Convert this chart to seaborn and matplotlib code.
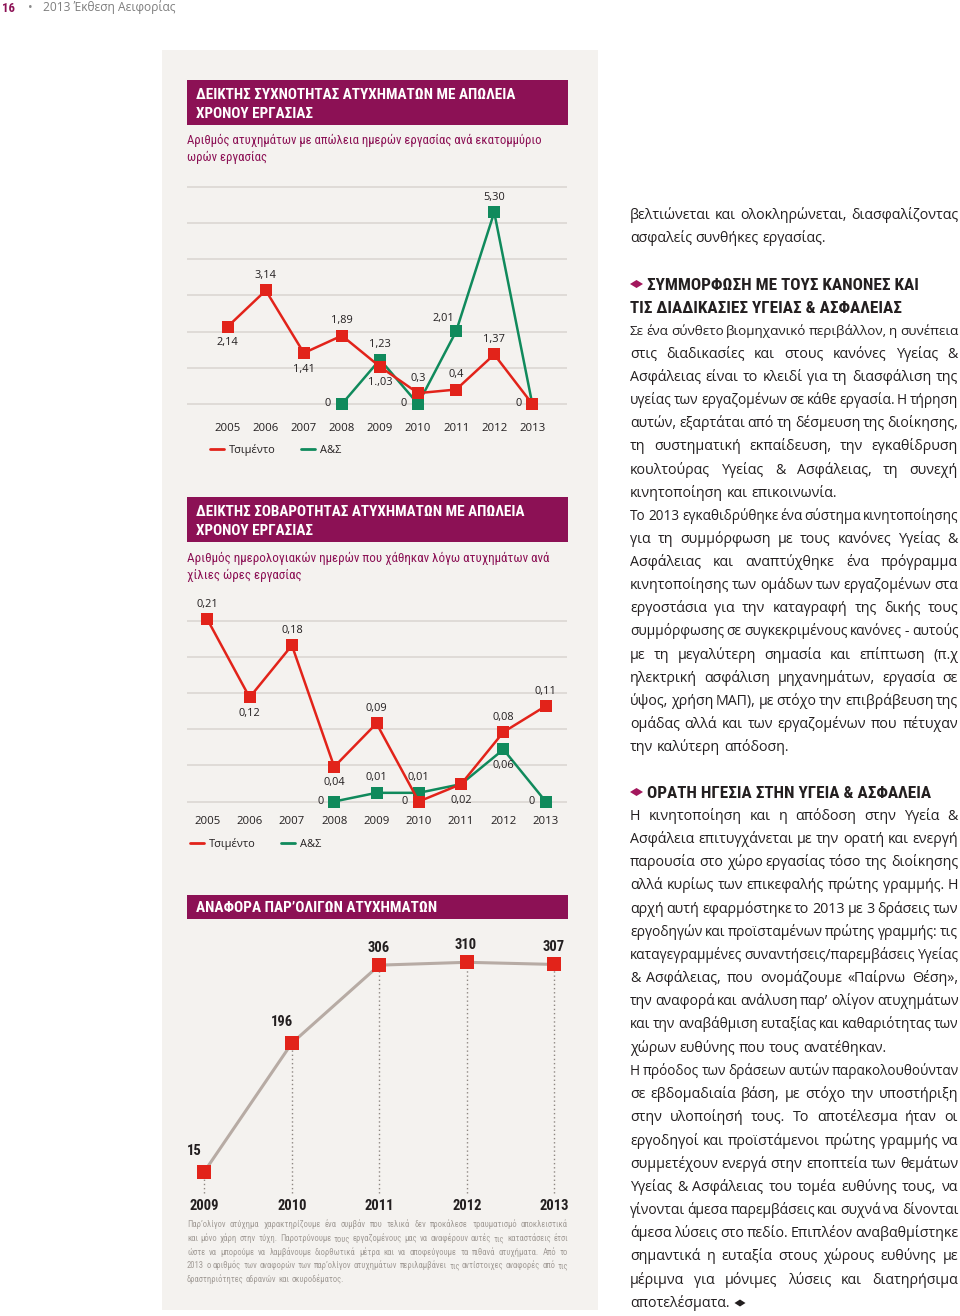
import matplotlib
matplotlib.use("Agg")
import matplotlib.pyplot as plt
import matplotlib.transforms as mtransforms
from matplotlib.patches import Rectangle, Polygon
from matplotlib.lines import Line2D
from matplotlib import font_manager
import pandas as pd
import seaborn as sns

# ---------------- data ----------------
years = [2005, 2006, 2007, 2008, 2009, 2010, 2011, 2012, 2013]
years_as = [2008, 2009, 2010, 2011, 2012, 2013]
series = ["Τσιμέντο", "Α&Σ"]

# frequency index (accidents per million hours)
freq_cement = [2.14, 3.14, 1.41, 1.89, 1.03, 0.3, 0.4, 1.37, 0]
freq_as = [0, 1.23, 0, 2.01, 5.30, 0]
freq_cement_lbl = ["2,14", "3,14", "1,41", "1,89", "1.,03", "0,3", "0,4", "1,37", ""]
freq_as_lbl = ["0", "1,23", "0", "2,01", "5,30", "0"]

# severity index (days lost per thousand hours)
sev_cement = [0.21, 0.12, 0.18, 0.04, 0.09, 0, 0.02, 0.08, 0.11]
sev_as = [0, 0.01, 0.01, 0.02, 0.06, 0]
sev_cement_lbl = ["0,21", "0,12", "0,18", "0,04", "0,09", "0", "0,02", "0,08", "0,11"]
sev_as_lbl = ["0", "0,01", "0,01", "", "0,06", "0"]

# near misses
near_years = [2009, 2010, 2011, 2012, 2013]
near_miss = [15, 196, 306, 310, 307]

# where each value label sits
freq_cement_at = ["below", "above", "below", "above", "below", "above", "above", "above", None]
freq_as_at = ["left", "above", "left", "upleft", "above", "left"]
sev_cement_at = ["above", "below", "above", "below", "above", "left", "below", "above", "above"]
sev_as_at = ["left", "above", "above", None, "below", "left"]
near_at = ["upleft", "upleft", "above", "above", "above"]
OFFS = {"above": (0, -15), "below": (0, 16), "left": (-14, 0), "upleft": (-13, -13)}
NEAR_OFFS = {"above": (-1, -17), "upleft": (-10, -21)}

# ---------------- text ----------------
top_lines = ["βελτιώνεται και ολοκληρώνεται, διασφαλίζοντας",
             "ασφαλείς συνθήκες εργασίας."]
head1 = ["ΣΥΜΜΟΡΦΩΣΗ ΜΕ ΤΟΥΣ ΚΑΝΟΝΕΣ ΚΑΙ", "ΤΙΣ ΔΙΑΔΙΚΑΣΙΕΣ ΥΓΕΙΑΣ & ΑΣΦΑΛΕΙΑΣ"]
block_a = [
    ["Σε ένα σύνθετο βιομηχανικό περιβάλλον, η συνέπεια",
     "στις διαδικασίες και στους κανόνες Υγείας &",
     "Ασφάλειας είναι το κλειδί για τη διασφάλιση της",
     "υγείας των εργαζομένων σε κάθε εργασία. Η τήρηση",
     "αυτών, εξαρτάται από τη δέσμευση της διοίκησης,",
     "τη συστηματική εκπαίδευση, την εγκαθίδρυση",
     "κουλτούρας Υγείας & Ασφάλειας, τη συνεχή",
     "κινητοποίηση και επικοινωνία."],
    ["Το 2013 εγκαθιδρύθηκε ένα σύστημα κινητοποίησης",
     "για τη συμμόρφωση με τους κανόνες Υγείας &",
     "Ασφάλειας και αναπτύχθηκε ένα πρόγραμμα",
     "κινητοποίησης των ομάδων των εργαζομένων στα",
     "εργοστάσια για την καταγραφή της δικής τους",
     "συμμόρφωσης σε συγκεκριμένους κανόνες - αυτούς",
     "με τη μεγαλύτερη σημασία και επίπτωση (π.χ",
     "ηλεκτρική ασφάλιση μηχανημάτων, εργασία σε",
     "ύψος, χρήση ΜΑΠ), με στόχο την επιβράβευση της",
     "ομάδας αλλά και των εργαζομένων που πέτυχαν",
     "την καλύτερη απόδοση."],
]
head2 = "ΟΡΑΤΗ ΗΓΕΣΙΑ ΣΤΗΝ ΥΓΕΙΑ & ΑΣΦΑΛΕΙΑ"
block_b = [
    ["Η κινητοποίηση και η απόδοση στην Υγεία &",
     "Ασφάλεια επιτυγχάνεται με την ορατή και ενεργή",
     "παρουσία στο χώρο εργασίας τόσο της διοίκησης",
     "αλλά κυρίως των επικεφαλής πρώτης γραμμής. Η",
     "αρχή αυτή εφαρμόστηκε το 2013 με 3 δράσεις των",
     "εργοδηγών και προϊσταμένων πρώτης γραμμής: τις",
     "καταγεγραμμένες συναντήσεις/παρεμβάσεις Υγείας",
     "& Ασφάλειας, που ονομάζουμε «Παίρνω Θέση»,",
     "την αναφορά και ανάλυση παρ’ ολίγον ατυχημάτων",
     "και την αναβάθμιση ευταξίας και καθαριότητας των",
     "χώρων ευθύνης που τους ανατέθηκαν."],
    ["Η πρόοδος των δράσεων αυτών παρακολουθούνταν",
     "σε εβδομαδιαία βάση, με στόχο την υποστήριξη",
     "στην υλοποίησή τους. Το αποτέλεσμα ήταν οι",
     "εργοδηγοί και προϊστάμενοι πρώτης γραμμής να",
     "συμμετέχουν ενεργά στην εποπτεία των θεμάτων",
     "Υγείας & Ασφάλειας του τομέα ευθύνης τους, να",
     "γίνονται άμεσα παρεμβάσεις και συχνά να δίνονται",
     "άμεσα λύσεις στο πεδίο. Επιπλέον αναβαθμίστηκε",
     "σημαντικά η ευταξία στους χώρους ευθύνης με",
     "μέριμνα για μόνιμες λύσεις και διατηρήσιμα",
     "αποτελέσματα."],
]
footnote = [
    "Παρ’ολίγον ατύχημα χαρακτηρίζουμε ένα συμβάν που τελικά δεν προκάλεσε τραυματισμό αποκλειστικά",
    "και μόνο χάρη στην τύχη. Παροτρύνουμε τους εργαζομένους μας να αναφέρουν αυτές τις καταστάσεις έτσι",
    "ώστε να μπορούμε να λαμβάνουμε διορθωτικά μέτρα και να αποφεύγουμε τα πιθανά ατυχήματα. Από το",
    "2013 ο αριθμός των αναφορών των παρ’ολίγον ατυχημάτων περιλαμβάνει τις αντίστοιχες αναφορές από τις",
    "δραστηριότητες αδρανών και σκυροδέματος.",
]

# ---------------- style ----------------
RED = "#e2231a"
GREEN = "#108a5c"
MAG = "#8c1155"
BULLET = "#a3175d"
PANEL = "#f4f2ef"
GRID = "#d9d5d0"
TAUPE = "#b7aba4"
DOT = "#8e8782"
TXT = "#231f20"
FOOT = "#a39d98"

names = {f.name for f in font_manager.fontManager.ttflist}


def pick(*cands):
    for n in cands:
        if n in names:
            return n
    return "DejaVu Sans"


BODY = pick("Open Sans", "Noto Sans", "DejaVu Sans")
COND = pick("Liberation Sans Narrow", "Roboto Condensed", "DejaVu Sans")

sns.set_theme(style="white")
plt.rcParams["font.family"] = [BODY, "DejaVu Sans"]

W, H = 960, 1316
fig = plt.figure(figsize=(W / 100, H / 100), dpi=100)
fig.patch.set_facecolor("white")
PX = mtransforms.Affine2D().scale(1 / W, -1 / H).translate(0, 1) + fig.transFigure
R = fig.canvas.get_renderer()
PT = 100 / 72


def put(s, x, y, size, k=0.27, **kw):
    return fig.text(x, y + k * size * PT, s, transform=PX, fontsize=size,
                    ha=kw.pop("ha", "left"), va="baseline", **kw)


def width(t):
    return t.get_window_extent(R).width


def size_for(s, w, **kw):
    t = fig.text(0, 0, s, fontsize=10, **kw)
    out = 10 * w / width(t)
    t.remove()
    return out


def fit(s, x0, x1, y, k=0.27, **kw):
    size = size_for(s, x1 - x0, **{a: b for a, b in kw.items() if a in ("family", "fontweight")})
    put(s, x0, y, size, k=k, **kw)
    return size


def justify(s, x0, x1, y, size, last=False, k=0.27, **kw):
    words = s.split(" ")
    ts = [put(w, x0, y, size, k=k, **kw) for w in words]
    ws = [width(t) for t in ts]
    sp = 0.26 * size * PT
    scale, gap = 1.0, sp
    if not last and len(words) > 1:
        nat = sum(ws) + 0.2 * size * PT * (len(ws) - 1)
        if nat > x1 - x0:
            scale = (x1 - x0) / nat
            gap = 0.2 * size * PT * scale
        else:
            gap = (x1 - x0 - sum(ws)) / (len(ws) - 1)
    x = x0
    for t, w in zip(ts, ws):
        t.set_fontsize(size * scale)
        t.set_position((x, y + k * size * scale * PT))
        x += w * scale + gap
    return x - gap


def bullet(x, y, color, w=13, h=8):
    fig.add_artist(Polygon([(x, y), (x + w / 2, y - h / 2), (x + w, y), (x + w / 2, y + h / 2)],
                           closed=True, transform=PX, facecolor=color, edgecolor="none"))


def axes_px(box, xmap, ymap):
    x0, y0, x1, y1 = box
    ax = fig.add_axes([x0 / W, 1 - y1 / H, (x1 - x0) / W, (y1 - y0) / H])
    v0, p0, v1, p1 = xmap
    sx = (v1 - v0) / (p1 - p0)
    ax.set_xlim(v0 + (x0 - p0) * sx, v0 + (x1 - p0) * sx)
    v0, p0, v1, p1 = ymap
    sy = (v1 - v0) / (p1 - p0)
    ax.set_ylim(v0 + (y1 - p0) * sy, v0 + (y0 - p0) * sy)
    ax.patch.set_alpha(0)
    sns.despine(ax=ax, left=True, bottom=True)
    return ax


def label_points(ax, xs, vals, lbls, where, offs, **kw):
    for x, v, s, w in zip(xs, vals, lbls, where):
        if not w or not s:
            continue
        dx, dy = offs[w]
        ax.annotate(s, (x, v), xytext=(dx * 0.72, -dy * 0.72), textcoords="offset points",
                    ha="center", va="center", annotation_clip=False, **kw)


def pair_chart(box, xmap, ymap, grid_vals, cement, c_lbl, c_at, as_vals, a_lbl, a_at, pad, leg):
    ax = axes_px(box, xmap, ymap)
    df = pd.concat([
        pd.DataFrame({"year": years_as, "value": as_vals, "series": series[1]}),
        pd.DataFrame({"year": years, "value": cement, "series": series[0]}),
    ])
    sns.lineplot(data=df, x="year", y="value", hue="series", hue_order=[series[1], series[0]],
                 palette={series[0]: RED, series[1]: GREEN}, marker="s", markersize=8.6,
                 markeredgewidth=0, linewidth=1.8, errorbar=None, legend=False, ax=ax)
    for ln in ax.lines:
        ln.set_clip_on(False)
    ax.set_yticks(grid_vals)
    ax.yaxis.grid(True, color=GRID, linewidth=1.1)
    ax.set_axisbelow(True)
    ax.tick_params(axis="y", left=False, labelleft=False)
    ax.set_xticks(years)
    ax.set_xticklabels([str(y) for y in years])
    ax.tick_params(axis="x", length=0, pad=pad, labelsize=8.2, colors=TXT)
    ax.set_xlabel("")
    ax.set_ylabel("")
    label_points(ax, years, cement, c_lbl, c_at, OFFS, fontsize=7.9, color=TXT)
    label_points(ax, years_as, as_vals, a_lbl, a_at, OFFS, fontsize=7.9, color=TXT)
    h = [Line2D([], [], color=RED, lw=2), Line2D([], [], color=GREEN, lw=2)]
    ax.legend(h, series, loc="center left", bbox_to_anchor=leg, bbox_transform=PX, ncol=2,
              frameon=False, fontsize=7.9, handlelength=1.3, handletextpad=0.45,
              columnspacing=2.3, borderpad=0, borderaxespad=0, labelcolor=TXT)
    return ax


# ---------------- page furniture ----------------
fig.add_artist(Rectangle((162, 50), 436, 1260, transform=PX, facecolor=PANEL,
                         edgecolor="none", zorder=-5))
fit("16", 2, 15, 7, k=0.36, family=COND, fontweight="bold", color=MAG)
put("•", 30, 7, 9, k=0.3, color="#8a8a8a", ha="center")
fit("2013 Έκθεση Αειφορίας", 43, 176, 7, k=0.33, color="#7e7e7e")

# header bars
for y0, y1 in [(80, 125), (497, 542), (895, 919)]:
    fig.add_artist(Rectangle((187, y0), 381, y1 - y0, transform=PX, facecolor=MAG,
                             edgecolor="none", zorder=-1))
s = fit("ΔΕΙΚΤΗΣ ΣΥΧΝΟΤΗΤΑΣ ΑΤΥΧΗΜΑΤΩΝ ΜΕ ΑΠΩΛΕΙΑ", 196, 514, 94, k=0.36,
        family=COND, fontweight="bold", color="white")
put("ΧΡΟΝΟΥ ΕΡΓΑΣΙΑΣ", 196, 113, s, k=0.36, family=COND, fontweight="bold", color="white")
s = fit("Αριθμός ατυχημάτων με απώλεια ημερών εργασίας ανά εκατομμύριο", 187, 541, 141,
        family=COND, color=MAG)
put("ωρών εργασίας", 187, 158, s, family=COND, color=MAG)

s = fit("ΔΕΙΚΤΗΣ ΣΟΒΑΡΟΤΗΤΑΣ ΑΤΥΧΗΜΑΤΩΝ ΜΕ ΑΠΩΛΕΙΑ", 196, 522, 511, k=0.36,
        family=COND, fontweight="bold", color="white")
put("ΧΡΟΝΟΥ ΕΡΓΑΣΙΑΣ", 196, 530, s, k=0.36, family=COND, fontweight="bold", color="white")
s = fit("Αριθμός ημερολογιακών ημερών που χάθηκαν λόγω ατυχημάτων ανά", 187, 549, 558,
        family=COND, color=MAG)
put("χίλιες ώρες εργασίας", 187, 575, s, family=COND, color=MAG)

fit("ΑΝΑΦΟΡΑ ΠΑΡ’ΟΛΙΓΩΝ ΑΤΥΧΗΜΑΤΩΝ", 196, 436, 907, k=0.36,
    family=COND, fontweight="bold", color="white")

# ---------------- charts ----------------
pair_chart((187, 180, 567, 412), (2005, 227.7, 2013, 532.3), (0, 404, 5.30, 212.3),
           [0, 1, 2, 3, 4, 5, 6], freq_cement, freq_cement_lbl, freq_cement_at,
           freq_as, freq_as_lbl, freq_as_at, 7.6, (210, 450))

pair_chart((187, 600, 567, 808), (2005, 207.3, 2013, 545.7), (0, 801.5, 0.21, 619.3),
           [i * 0.25 / 6 for i in range(6)], sev_cement, sev_cement_lbl, sev_cement_at,
           sev_as, sev_as_lbl, sev_as_at, 6.1, (190, 844))

ymap3 = (15, 1171.7, 310, 962.3)
ax3 = axes_px((187, 935, 567, 1196), (2009, 204.3, 2013, 554.3), ymap3)
base = ymap3[0] + (1193 - ymap3[1]) * (ymap3[2] - ymap3[0]) / (ymap3[3] - ymap3[1])
ax3.vlines(near_years, base, near_miss, colors=DOT, linestyles=(0, (1, 2)), lw=1, zorder=1)
sns.lineplot(x=near_years, y=near_miss, color=TAUPE, linewidth=2.2, marker="s",
             markersize=9.5, markerfacecolor=RED, markeredgewidth=0, ax=ax3)
for ln in ax3.lines:
    ln.set_clip_on(False)
ax3.set_xticks(near_years)
ax3.set_xticklabels([str(y) for y in near_years], family=COND, fontweight="bold")
ax3.tick_params(axis="x", length=0, pad=2.0, labelsize=10.5, colors=TXT)
ax3.tick_params(axis="y", left=False, labelleft=False)
ax3.set_xlabel("")
ax3.set_ylabel("")
label_points(ax3, near_years, near_miss, [str(v) for v in near_miss], near_at, NEAR_OFFS,
             fontsize=10.5, color=TXT, family=COND, fontweight="bold")

# footnote
fs = size_for(footnote[-1], 158, family=COND)
for i, line in enumerate(footnote):
    justify(line, 187, 568, 1225 + i * 13.7, fs, last=(i == len(footnote) - 1),
            family=COND, color=FOOT)

# ---------------- right column ----------------
# body size taken from a tightly set full line of the reference
bs = size_for(top_lines[0], 328)
justify(top_lines[0], 630, 958, 215, bs, color=TXT)
justify(top_lines[1], 630, 958, 238, bs, last=True, color=TXT)

bullet(630, 284, BULLET)
hs = fit(head1[0], 647, 916, 284, k=0.36, family=COND, fontweight="bold", color=TXT)
put(head1[1], 630, 307, hs, k=0.36, family=COND, fontweight="bold", color=TXT)

row = 0
for para in block_a:
    for j, line in enumerate(para):
        justify(line, 630, 958, 331 + row * 23.12, bs, last=(j == len(para) - 1), color=TXT)
        row += 1

bullet(630, 792, BULLET)
put(head2, 647, 792, hs, k=0.36, family=COND, fontweight="bold", color=TXT)

row = 0
end = 0
for para in block_b:
    for j, line in enumerate(para):
        end = justify(line, 630, 958, 816 + row * 23.19, bs, last=(j == len(para) - 1), color=TXT)
        row += 1
bullet(end + 5, 1303, TXT, w=11, h=7)

fig.savefig("out.png", dpi=100, facecolor="white")
